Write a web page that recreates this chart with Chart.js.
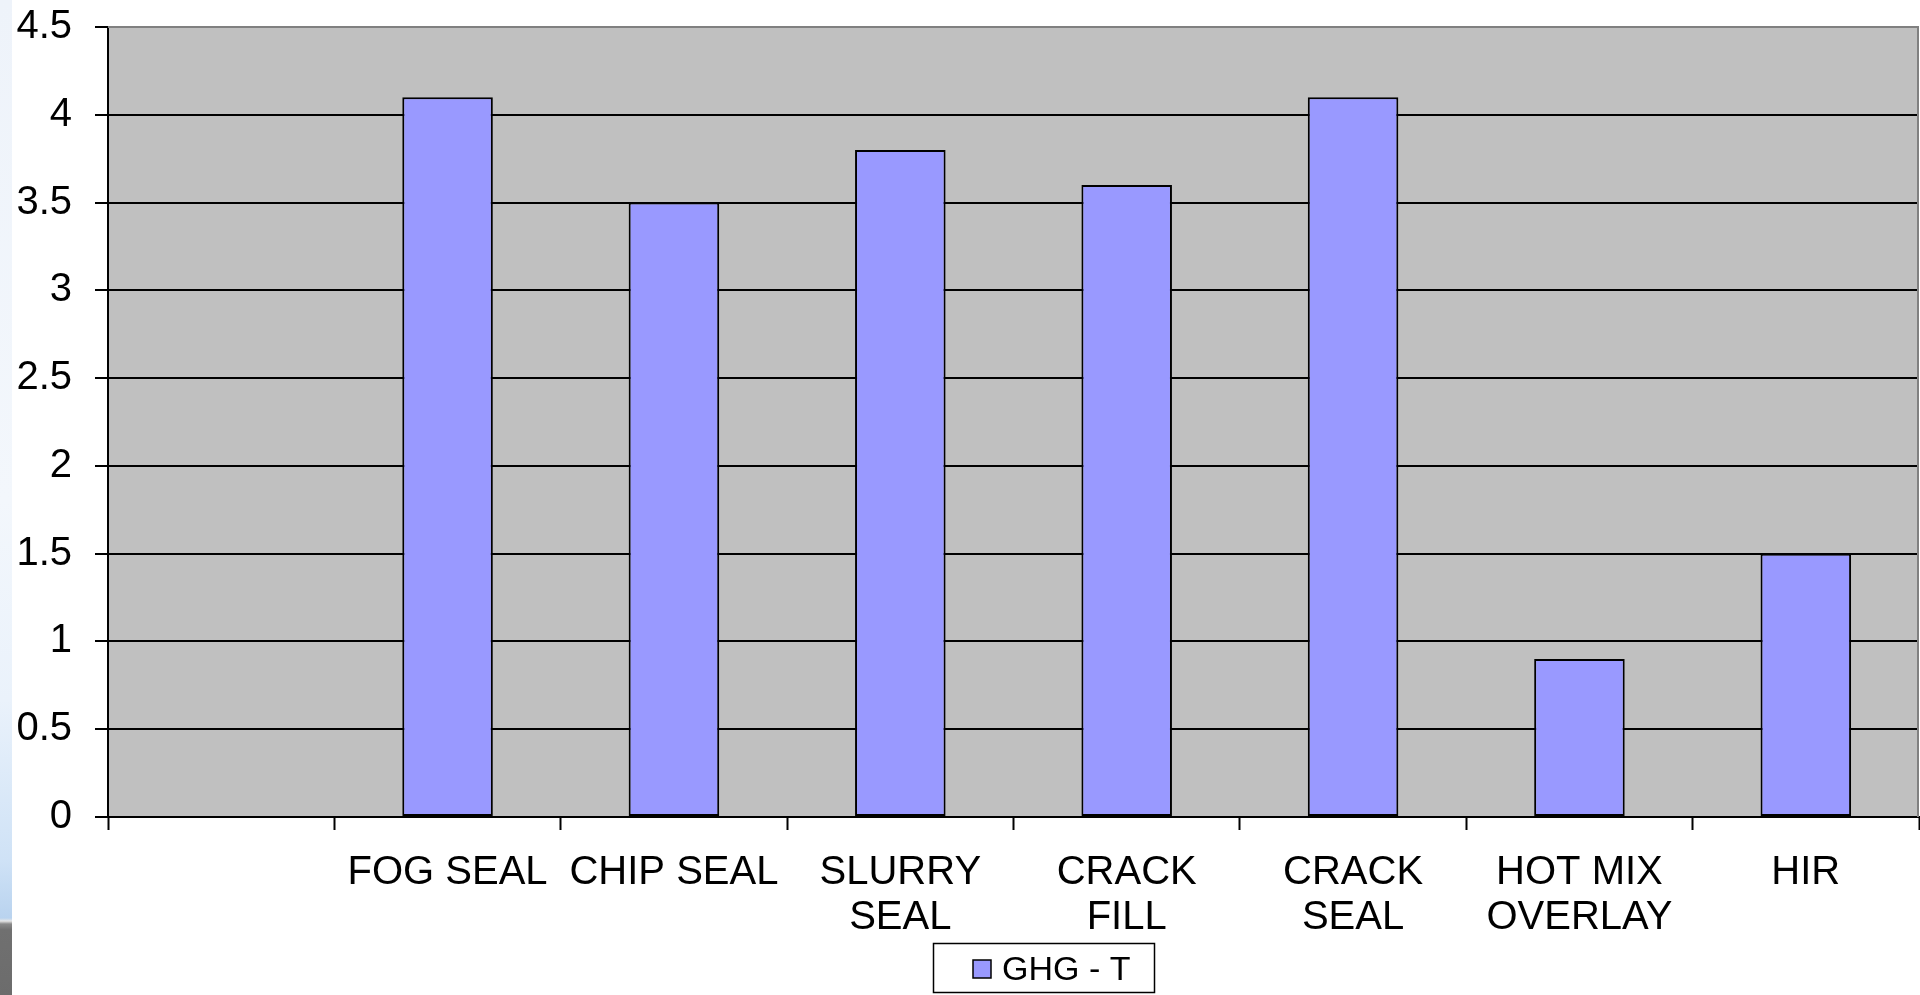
<!DOCTYPE html>
<html>
<head>
<meta charset="utf-8">
<title>GHG - T</title>
<script src="https://cdn.jsdelivr.net/npm/chart.js@4/dist/chart.umd.min.js"></script>
<style>
  html, body { margin: 0; padding: 0; background: #ffffff; overflow: hidden; }
  #wrap { position: relative; width: 1920px; height: 995px; }
  #edge {
    position: absolute; left: 0; top: 0; width: 12px; height: 995px; z-index: 2;
    background: linear-gradient(to bottom,
      #eef3fa 0px, #f3f7fc 500px, #eaf2fb 700px, #cfe2f6 860px, #b9d3ef 918px,
      #e6e6e6 921px, #8a8a8a 924px, #707070 930px, #6c6c6c 995px);
  }
  canvas { position: absolute; left: 0; top: 0; }
</style>
</head>
<body>
<div id="wrap">
  <div id="edge"></div>
  <canvas id="chart" width="1920" height="995"></canvas>
</div>
<script>
// Treatment categories (first slot is an empty category)
const categories = [
  "",
  "FOG SEAL",
  "CHIP SEAL",
  ["SLURRY", "SEAL"],
  ["CRACK", "FILL"],
  ["CRACK", "SEAL"],
  ["HOT MIX", "OVERLAY"],
  "HIR"
];

// GHG emissions per treatment
const seriesName = "GHG - T";
const ghgValues = [null, 4.1, 3.5, 3.8, 3.6, 4.1, 0.9, 1.5];

// Value axis
const yMin = 0;
const yMax = 4.5;
const yStep = 0.5;

const FONT = "'Liberation Sans', Arial, sans-serif";
const BAR_FILL = "#9999ff";

// Grey plot background with a grey frame on top and right
const plotArea = {
  id: "plotArea",
  beforeDraw(chart) {
    const { ctx, chartArea: a } = chart;
    ctx.save();
    ctx.fillStyle = "#c0c0c0";
    ctx.fillRect(a.left, a.top, a.right - a.left, a.bottom - a.top);
    ctx.restore();
  },
  afterDatasetsDraw(chart) {
    const { ctx, chartArea: a } = chart;
    ctx.save();
    ctx.strokeStyle = "#808080";
    ctx.lineWidth = 2;
    ctx.beginPath();
    ctx.moveTo(a.left, a.top);
    ctx.lineTo(a.right - 1, a.top);
    ctx.lineTo(a.right - 1, a.bottom);
    ctx.stroke();
    ctx.restore();
  }
};

// Boxed legend under the category labels
const boxedLegend = {
  id: "boxedLegend",
  afterDraw(chart) {
    const { ctx } = chart;
    const ds = chart.data.datasets[0];
    const box = { x: 933, y: 943, w: 222, h: 50 };
    ctx.save();
    ctx.fillStyle = "#ffffff";
    ctx.fillRect(box.x, box.y, box.w, box.h);
    ctx.strokeStyle = "#000000";
    ctx.lineWidth = 1.5;
    ctx.strokeRect(box.x + 0.5, box.y + 0.5, box.w - 1, box.h - 1);
    // swatch
    ctx.fillStyle = ds.backgroundColor;
    ctx.fillRect(973, 960, 18, 18);
    ctx.lineWidth = 1.5;
    ctx.strokeStyle = "#000000";
    ctx.strokeRect(973, 960, 18, 18);
    // label
    ctx.fillStyle = "#000000";
    ctx.font = "34px " + FONT;
    ctx.textBaseline = "middle";
    ctx.textAlign = "left";
    ctx.fillText(ds.label, 1002, 971);
    ctx.restore();
  }
};

// Keep the axes from reserving extra room for overhanging tick labels
function noLabelPadding(scale) {
  scale.paddingTop = 0;
  scale.paddingBottom = 0;
  scale.paddingLeft = 0;
  scale.paddingRight = 0;
}

new Chart(document.getElementById("chart"), {
  type: "bar",
  data: {
    labels: categories,
    datasets: [{
      label: seriesName,
      data: ghgValues,
      backgroundColor: BAR_FILL,
      borderColor: "#000000",
      borderWidth: 2,
      borderSkipped: false,
      barPercentage: 0.4,
      categoryPercentage: 1.0
    }]
  },
  options: {
    responsive: false,
    devicePixelRatio: 1,
    animation: false,
    layout: { padding: { left: 0, top: 27, right: 1, bottom: 0 } },
    plugins: {
      legend: { display: false },
      tooltip: { enabled: false },
      title: { display: false }
    },
    scales: {
      x: {
        offset: true,
        grid: {
          offset: true,
          drawOnChartArea: false,
          drawTicks: true,
          tickLength: 13,
          tickColor: "#000000",
          tickWidth: 2,
          color: "#000000"
        },
        border: { display: true, color: "#000000", width: 2 },
        ticks: {
          color: "#000000",
          font: { family: FONT, size: 40, lineHeight: 1.125 },
          padding: 20,
          maxRotation: 0,
          minRotation: 0,
          autoSkip: false
        },
        afterFit(scale) {
          scale.height = 995 - 817;
          noLabelPadding(scale);
        }
      },
      y: {
        min: yMin,
        max: yMax,
        grid: {
          drawTicks: true,
          tickLength: 13,
          tickColor: "#000000",
          tickWidth: 2,
          lineWidth: 2,
          color: (c) => (c.tick && c.tick.value === yMax) ? "#808080" : "#000000"
        },
        border: { display: true, color: "#000000", width: 2 },
        ticks: {
          stepSize: yStep,
          color: "#000000",
          font: { family: FONT, size: 40 },
          padding: 23,
          callback: (v) => String(v)
        },
        afterFit(scale) {
          scale.width = 108;
          noLabelPadding(scale);
        }
      }
    }
  },
  plugins: [plotArea, boxedLegend]
});
</script>
</body>
</html>
